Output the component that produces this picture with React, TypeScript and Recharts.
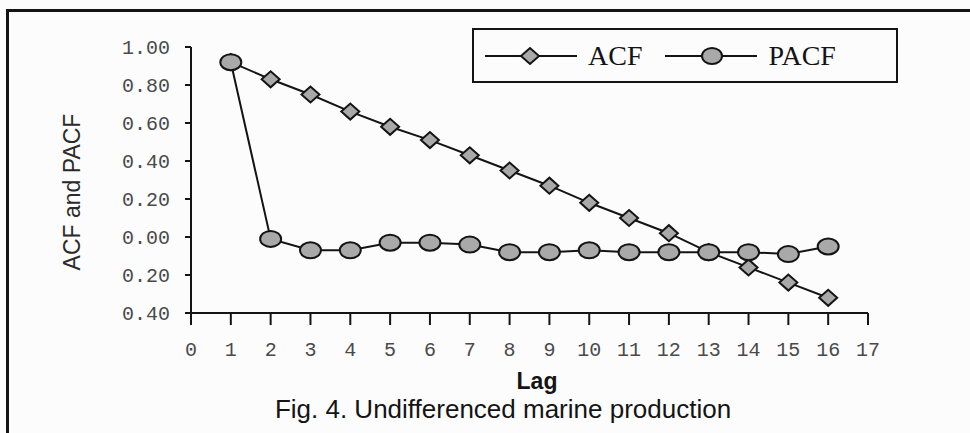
import { LineChart, Line, XAxis, YAxis, Label } from "recharts";

const LAGS = [1, 2, 3, 4, 5, 6, 7, 8, 9, 10, 11, 12, 13, 14, 15, 16];
const ACF = [0.92, 0.83, 0.75, 0.66, 0.58, 0.51, 0.43, 0.35, 0.27, 0.18, 0.1, 0.02, -0.08, -0.16, -0.24, -0.32];
const PACF = [0.92, -0.01, -0.07, -0.07, -0.03, -0.03, -0.04, -0.08, -0.08, -0.07, -0.08, -0.08, -0.08, -0.08, -0.09, -0.05];
const X_TICKS = [0, 1, 2, 3, 4, 5, 6, 7, 8, 9, 10, 11, 12, 13, 14, 15, 16, 17];
const Y_TICKS = [-0.4, -0.2, 0, 0.2, 0.4, 0.6, 0.8, 1.0];

const INK = "#141414";
const MARK_FILL = "#a9a9a9";
const MONO = "'Liberation Mono', 'DejaVu Sans Mono', monospace";
const SANS = "'Liberation Sans', Arial, sans-serif";
const SERIF = "'Liberation Serif', 'Times New Roman', serif";

const data = LAGS.map((lag, i) => ({ lag, acf: ACF[i], pacf: PACF[i] }));

// diamond marker for ACF
function Diamond(props: any) {
  const { cx, cy, index } = props;
  if (cx == null || cy == null) return null;
  const w = 9, h = 8;
  return (
    <polygon key={`d-${index}`}
      points={`${cx - w},${cy} ${cx},${cy - h} ${cx + w},${cy} ${cx},${cy + h}`}
      fill={MARK_FILL} stroke={INK} strokeWidth={2} />
  );
}

// oval marker for PACF
function Oval(props: any) {
  const { cx, cy, index } = props;
  if (cx == null || cy == null) return null;
  return <ellipse key={`o-${index}`} cx={cx} cy={cy} rx={10.5} ry={8} fill={MARK_FILL} stroke={INK} strokeWidth={2} />;
}

function LegendItem({ kind, label }: { kind: "d" | "o"; label: string }) {
  return (
    <div style={{ display: "flex", alignItems: "center" }}>
      <svg width={94} height={24}>
        <line x1={1} y1={12} x2={93} y2={12} stroke={INK} strokeWidth={2} />
        {kind === "d"
          ? <polygon points="37,12 46,4 55,12 46,20" fill={MARK_FILL} stroke={INK} strokeWidth={2} />
          : <ellipse cx={48} cy={12} rx={10} ry={8} fill={MARK_FILL} stroke={INK} strokeWidth={2} />}
      </svg>
      <span style={{ fontFamily: SERIF, fontSize: 28, color: INK, marginLeft: 10, lineHeight: 1 }}>{label}</span>
    </div>
  );
}

export default function App() {
  return (
    <div style={{ position: "absolute", left: 0, top: 0, width: 970, height: 433, background: "#fcfcfc", overflow: "hidden" }}>
      {/* scan frame: only top and left edges show */}
      <div style={{ position: "absolute", left: 6, top: 9, width: 980, height: 440, borderTop: `3px solid ${INK}`, borderLeft: `3px solid ${INK}` }} />

      <LineChart width={970} height={433} data={data}
        margin={{ top: 47, right: 102, left: 131, bottom: 80 }}
        style={{ position: "absolute", left: 0, top: 0 }}>
        <XAxis dataKey="lag" type="number" domain={[0, 17]} ticks={X_TICKS} interval={0}
          axisLine={{ stroke: INK, strokeWidth: 2 }}
          tickLine={{ stroke: INK, strokeWidth: 2 }} tickSize={12} tickMargin={17} height={40}
          tick={{ fill: "#4a4a4a", fontSize: 20, fontFamily: MONO }} />
        <YAxis type="number" domain={[-0.4, 1]} ticks={Y_TICKS} interval={0} width={60}
          tickFormatter={(v: number) => Math.abs(v).toFixed(2)}
          axisLine={{ stroke: INK, strokeWidth: 2 }}
          tickLine={{ stroke: INK, strokeWidth: 2 }} tickSize={6} tickMargin={15}
          tick={{ fill: "#4a4a4a", fontSize: 20, fontFamily: MONO }}>
          <Label content={() => (
            <text x={80} y={192} transform="rotate(-90 80 192)" textAnchor="middle"
              fontFamily={SANS} fontSize={23} fill="#2a2a2a">ACF and PACF</text>
          )} />
        </YAxis>
        <Line type="linear" dataKey="acf" stroke={INK} strokeWidth={2}
          dot={<Diamond />} activeDot={false} isAnimationActive={false} />
        <Line type="linear" dataKey="pacf" stroke={INK} strokeWidth={2}
          dot={<Oval />} activeDot={false} isAnimationActive={false} />
      </LineChart>

      {/* legend box */}
      <div style={{
        position: "absolute", left: 472, top: 28, width: 412, height: 51,
        border: `2px solid ${INK}`, display: "flex", alignItems: "center",
        paddingLeft: 10, gap: 22, boxSizing: "content-box",
      }}>
        <LegendItem kind="d" label="ACF" />
        <LegendItem kind="o" label="PACF" />
      </div>

      <div style={{ position: "absolute", left: 0, width: 1074, top: 368, textAlign: "center",
        fontFamily: SANS, fontWeight: "bold", fontSize: 23, color: INK }}>Lag</div>
      <div style={{ position: "absolute", left: 0, width: 1006, top: 394, textAlign: "center",
        fontFamily: SANS, fontSize: 26, color: INK, lineHeight: "30px" }}>Fig. 4. Undifferenced marine production</div>
    </div>
  );
}
